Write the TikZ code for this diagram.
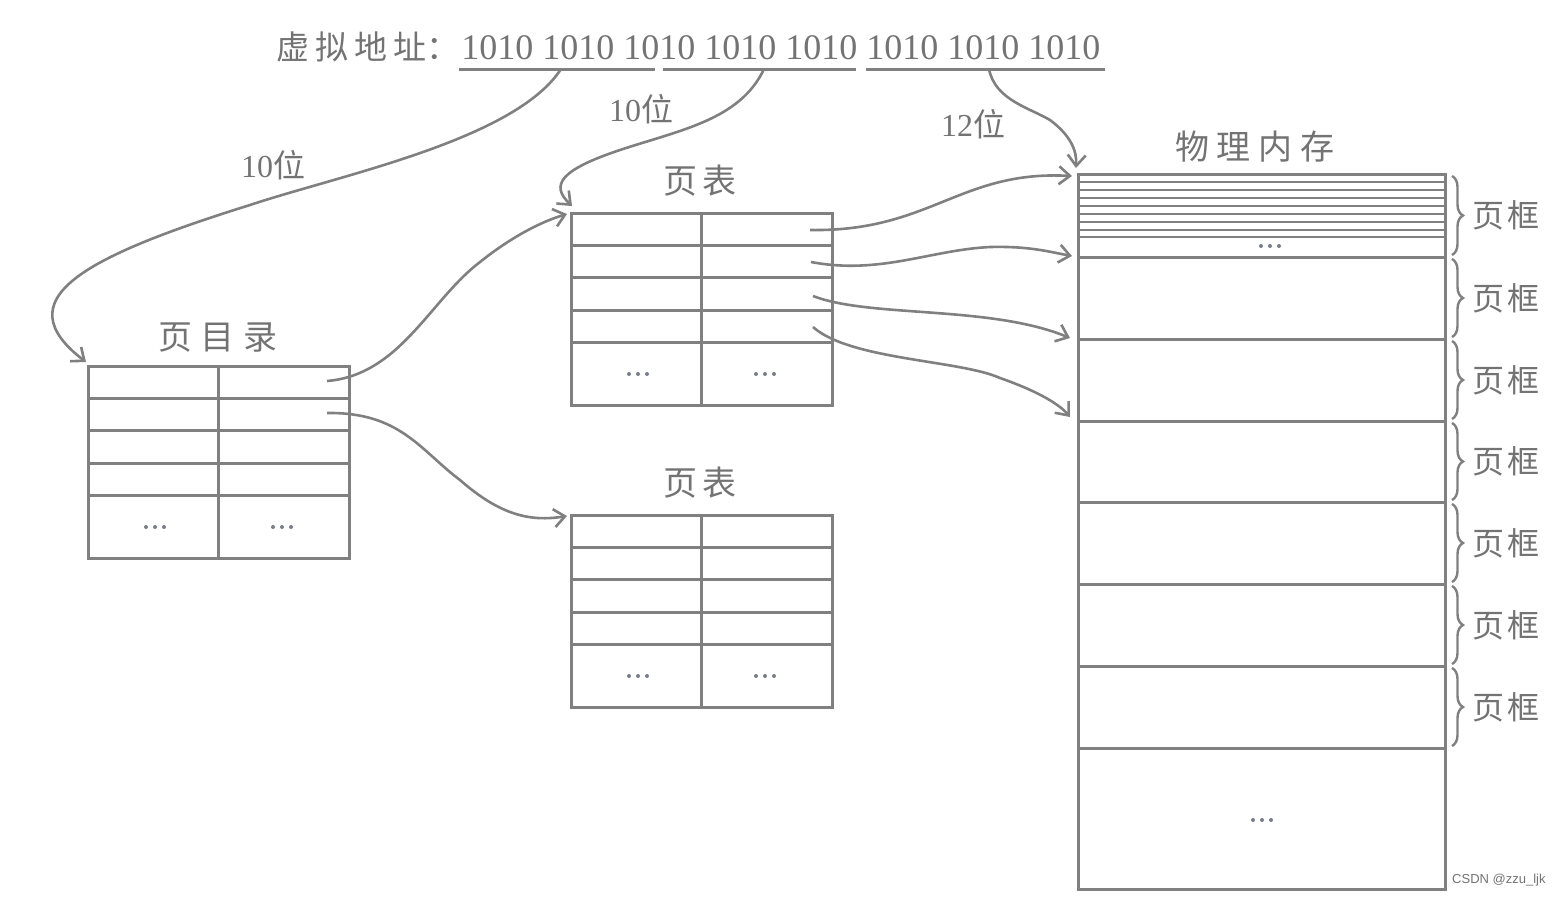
\documentclass[tikz,border=0pt]{standalone}
\usepackage{fontspec}
\setmainfont{Liberation Serif}
\newfontfamily\cjk{Noto Sans CJK SC}
\newfontfamily\wmfont{Liberation Sans}
\usetikzlibrary{arrows.meta,decorations.pathreplacing,calc}
\definecolor{lg}{RGB}{128,128,128}
\definecolor{tg}{RGB}{115,115,115}
\definecolor{dg}{RGB}{120,125,135}
\tikzset{
  box/.style={draw=lg, line width=1.5pt, inner sep=0pt, outer sep=0pt, anchor=north west},
  gridline/.style={draw=lg, line width=1.5pt},
  thinline/.style={draw=lg, line width=1.1pt},
  link/.style={draw=lg, line width=1.3pt, -{Straight Barb[length=5.5pt,width=9pt,line width=1.3pt]}},
  ulin/.style={draw=lg, line width=1.5pt},
  lbl/.style={text=tg, inner sep=0pt},
  cjkt/.style={text=tg, inner sep=0pt, font=\cjk\fontsize{17}{17}\selectfont},
  brc/.style={draw=lg, line width=1.2pt, decorate, decoration={brace, amplitude=5.5pt}},
}
\newcommand\threedots[1]{%
  \foreach \dx in {-9,0,9} {\fill[dg] ($(#1)+(\dx,0)$) circle[radius=1pt];}
}
\newcommand\pgtable[3]{%
  \node[box, minimum width=130.5pt, minimum height=96pt] (#1) at (#2,#3) {};
  \draw[gridline] (#1.north) -- (#1.south);
  \foreach \o in {32,64,97,129} {\draw[gridline] ($(#1.north west)+(0,\o)$) -- ++(261,0);}
  \coordinate (#1-d1) at ($(#1.north west)+(67,161)$);
  \coordinate (#1-d2) at ($(#1.north west)+(194,161)$);
  \threedots{#1-d1}
  \threedots{#1-d2}
}
\begin{document}
\begin{tikzpicture}[x=0.5pt,y=-0.5pt]
\useasboundingbox (0,0) rectangle (1560,896);

% virtual address
\node[lbl, anchor=west, font=\cjk\fontsize{16.5}{16.5}\selectfont] (va) at (276,47)
  {虚\hspace{3pt}拟\hspace{3pt}地\hspace{3pt}址：};
\node[lbl, anchor=base west, font=\fontsize{18}{18}\selectfont] (bits) at (461,59)
  {1010 1010 1010 1010 1010 1010 1010 1010};
\draw[ulin] (459,69) -- (655,69);
\draw[ulin] (663,69) -- (856,69);
\draw[ulin] (866,69) -- (1105,69);
\coordinate (s1) at (561,69);
\coordinate (s2) at (764,69);
\coordinate (s3) at (989,69);

% bit labels
\node[lbl, anchor=base, font=\fontsize{16}{16}\selectfont] (b1) at (273,177) {10{\cjk 位}};
\node[lbl, anchor=base, font=\fontsize{16}{16}\selectfont] (b2) at (641,121) {10{\cjk 位}};
\node[lbl, anchor=base, font=\fontsize{16}{16}\selectfont] (b3) at (973,136) {12{\cjk 位}};

% tables
\pgtable{dir}{88}{366}
\pgtable{pta}{571}{213}
\pgtable{ptb}{571}{515}
\node[cjkt] (dirt) at (218,338) {页\hspace{4.5pt}目\hspace{4.5pt}录};
\node[cjkt] (ptat) at (700,181) {页\hspace{2.5pt}表};
\node[cjkt] (ptbt) at (700,483) {页\hspace{2.5pt}表};

% physical memory
\node[box, minimum width=183.5pt, minimum height=357.5pt] (mem) at (1078,174) {};
\node[cjkt] (memt) at (1255,147) {物\hspace{4pt}理\hspace{4pt}内\hspace{4pt}存};
\foreach \y in {182,190,198,206,214,222,230,237} {\draw[thinline] (1078,\y) -- (1445,\y);}
\foreach \y in {257,339,421,502,584,666,748} {\draw[gridline] (1078,\y) -- (1445,\y);}
\coordinate (memd1) at (1270,246);
\coordinate (memd2) at (1262,820);
\threedots{memd1}
\threedots{memd2}

% braces and frame labels
\foreach \t/\b [count=\i] in {174/257,257/339,339/421,421/502,502/584,584/666,666/748} {
  \draw[brc] (1452,\t+2) -- (1452,\b-2);
  \node[cjkt, font=\cjk\fontsize{16}{16}\selectfont] (pf\i) at (1506,{(\t+\b)/2}) {页\hspace{1.5pt}框};
}

% watermark
\node[anchor=east, text=tg, inner sep=0pt, font=\wmfont\fontsize{6.5}{6.5}\selectfont] (wm) at (1546,880) {CSDN @zzu\_ljk};

% connectors from address
\draw[link] (s1) .. controls (515,140) and (340,175) .. (250,205)
   .. controls (80,258) and (5,300) .. ($(dir.north west)+(-2,-4)$);
\draw[link] (s2) .. controls (740,120) and (680,130) .. (620,150)
   .. controls (560,170) and (550,185) .. ($(pta.north west)+(1,-7)$);
\draw[link] (s3) .. controls (995,100) and (1030,108) .. (1050,120)
   .. controls (1070,135) and (1077,150) .. ($(mem.north west)+(-2,-6)$);

% directory -> page tables
\draw[link] ($(dir.north east)+(-22,15)$) .. controls (400,375) and (430,300) .. (480,262)
   .. controls (510,238) and (540,222) .. ($(pta.north west)+(-4,1)$);
\draw[link] ($(dir.north east)+(-22,47)$) .. controls (400,412) and (420,450) .. (460,480)
   .. controls (500,515) and (530,522) .. ($(ptb.north west)+(-4,1)$);

% page table -> frames
\draw[link] ($(pta.north east)+(-22,17)$) .. controls (930,232) and (960,170) .. ($(mem.north west)+(-6,2)$);
\draw[link] ($(pta.north east)+(-21,49)$) .. controls (880,275) and (930,250) .. (990,247)
   .. controls (1030,246) and (1050,252) .. ($(mem.north west)+(-6,82)$);
\draw[link] ($(pta.north east)+(-19,83)$) .. controls (870,318) and (990,305) .. ($(mem.north west)+(-8,164)$);
\draw[link] ($(pta.north east)+(-19,114)$) .. controls (850,360) and (960,360) .. (1000,378)
   .. controls (1040,392) and (1060,405) .. ($(mem.north west)+(-8,243)$);
\end{tikzpicture}
\end{document}
